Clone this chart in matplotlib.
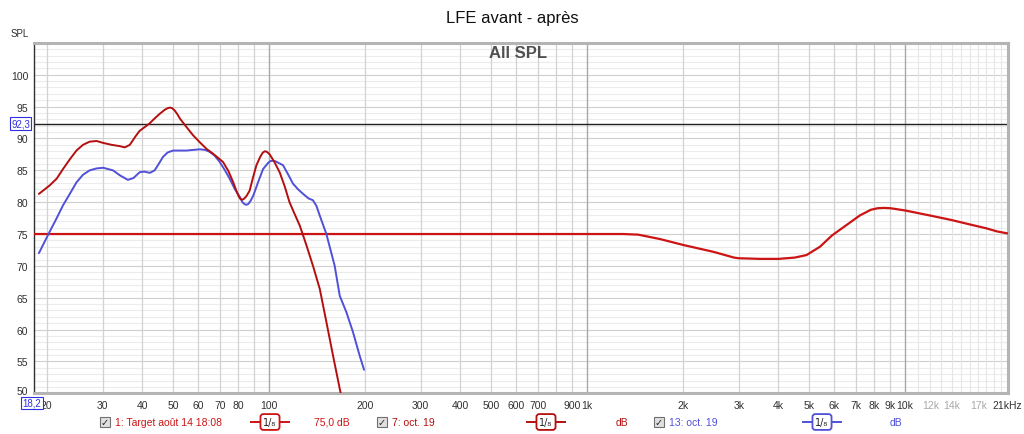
import numpy as np
import matplotlib
matplotlib.use("Agg")
import matplotlib.pyplot as plt
import matplotlib.transforms as mtransforms
from matplotlib.patches import Rectangle

plt.rcParams['font.family'] = ['Liberation Sans', 'DejaVu Sans']

# ---------------- data ----------------
target_freq = [18.2, 100, 500, 1300, 1450, 1700, 2000, 2500, 2900, 3000, 3500, 4000, 4500, 4900,
               5400, 5900, 6500, 7200, 7800, 8200, 8600, 9000, 10000, 12000, 14000, 16000, 18000, 19500, 21000]
target_spl = [75.0, 75.0, 75.0, 75.0, 74.9, 74.2, 73.3, 72.2, 71.3, 71.2, 71.1, 71.1, 71.3, 71.7,
              73.0, 74.8, 76.3, 77.9, 78.8, 79.05, 79.1, 79.05, 78.7, 77.9, 77.2, 76.5, 75.9, 75.4, 75.1]

m7_freq = [18.9, 20.4, 21.5, 22.5, 23.7, 24.8, 26.0, 27.3, 28.7, 30.1, 32.0, 33.9, 35.2, 36.5, 38.0,
           39.2, 40.7, 42.2, 43.8, 45.4, 47.0, 48.0, 48.8, 49.6, 50.5, 51.5, 52.5, 55.0, 57.7, 60.6,
           63.5, 66.7, 69.0, 71.7, 74.5, 77.2, 79.2, 80.5, 81.5, 82.5, 83.5, 84.8, 86.9, 89.0, 91.3,
           93.8, 95.5, 97.0, 98.5, 100.5, 104.0, 108.0, 112.0, 116.0, 120.0, 125.0, 131.0, 137.5,
           144.4, 151.5, 159.0, 167.7, 170.0]
m7_spl = [81.3, 82.6, 83.7, 85.2, 86.8, 88.1, 89.0, 89.5, 89.6, 89.3, 89.0, 88.8, 88.6, 89.0, 90.3,
          91.2, 91.8, 92.4, 93.2, 93.9, 94.5, 94.75, 94.85, 94.75, 94.4, 93.8, 93.1, 91.8, 90.5, 89.4,
          88.4, 87.6, 87.0, 86.3, 84.9, 83.1, 81.6, 80.8, 80.45, 80.4, 80.55, 80.9, 81.8, 83.8, 85.8,
          87.1, 87.75, 88.0, 87.9, 87.5, 86.3, 84.7, 82.5, 80.0, 78.3, 76.3, 73.3, 70.0,
          66.4, 61.2, 55.9, 50.2, 48.8]

m13_freq = [18.9, 20.4, 21.5, 22.5, 23.7, 24.8, 26.0, 27.3, 28.7, 30.1, 32.3, 34.0, 36.0, 37.5,
            39.2, 40.5, 42.2, 43.7, 45.0, 46.4, 48.0, 49.9, 52.5, 55.0, 57.7, 60.6, 63.0, 65.1,
            67.5, 70.0, 72.5, 75.2, 78.0, 81.0, 82.5, 84.0, 85.0, 86.0, 87.5, 89.2, 92.5, 95.8,
            99.5, 101.0, 103.0, 105.0, 106.8, 110.7, 115.0, 119.0, 123.5, 128.0, 133.0, 137.5,
            141.0, 144.4, 151.5, 160.9, 166.9, 175.2, 183.7, 192.8, 199.0]
m13_spl = [72.0, 75.3, 77.5, 79.5, 81.4, 83.1, 84.3, 85.0, 85.3, 85.4, 85.0, 84.2, 83.5, 83.8,
           84.7, 84.8, 84.6, 85.0, 86.0, 87.1, 87.8, 88.1, 88.1, 88.1, 88.2, 88.3, 88.2, 87.9,
           87.3, 86.3, 85.1, 83.7, 82.1, 80.8, 80.0, 79.65, 79.6, 79.7, 80.2, 81.0, 83.2, 85.2,
           86.2, 86.45, 86.5, 86.4, 86.2, 85.8, 84.3, 82.9, 82.0, 81.3, 80.6, 80.3,
           79.4, 77.9, 75.0, 70.0, 65.3, 62.7, 59.6, 55.9, 53.7]

marker_level = 92.3
y_ticks = [50, 55, 60, 65, 70, 75, 80, 85, 90, 95, 100]
x_tick_vals = [20, 30, 40, 50, 60, 70, 80, 100, 200, 300, 400, 500, 600, 700, 900,
               1000, 2000, 3000, 4000, 5000, 6000, 7000, 8000, 9000, 10000, 12000, 14000, 17000, 21000]
x_tick_labels = ['20', '30', '40', '50', '60', '70', '80', '100', '200', '300', '400', '500', '600', '700', '900',
                 '1k', '2k', '3k', '4k', '5k', '6k', '7k', '8k', '9k', '10k', '12k', '14k', '17k', '21kHz']
light_labels = ['12k', '14k', '17k']

title = "LFE avant - après"
overlay = "All SPL"
legend_names = ["1: Target août 14 18:08", "7: oct. 19", "13: oct. 19"]
legend_levels = ["75,0 dB", "dB", "dB"]

c_target = '#cc1414'
c_m7 = '#b40f0f'
c_m13 = '#5050d8'

# ---------------- figure ----------------
W, H = 1024, 435
fig = plt.figure(figsize=(W / 100, H / 100), dpi=100)
x0, x1, y0, y1 = 33.7, 1007.5, 43.9, 394.3
ax = fig.add_axes([x0 / W, 1 - y1 / H, (x1 - x0) / W, (y1 - y0) / H])
ax.set_xscale('log')
ax.set_xlim(18.2, 21000)
ax.set_ylim(50, 105)

# grid
for v in range(51, 105):
    if v % 5 == 0:
        continue
    ax.axhline(v, color='#ececec', lw=0.8, zorder=0)
for v in range(55, 105, 5):
    ax.axhline(v, color='#cfcfcf', lw=0.8, zorder=0)
vmed = [20, 30, 40, 50, 60, 70, 80, 90, 200, 300, 400, 500, 600, 700, 800, 900,
        2000, 3000, 4000, 5000, 6000, 7000, 8000, 9000]
for v in vmed:
    ax.axvline(v, color='#d2d2d2', lw=0.9, zorder=0)
for v in [100, 1000, 10000]:
    ax.axvline(v, color='#a8a8a8', lw=1.0, zorder=0)
for v in range(11000, 21000, 1000):
    ax.axvline(v, color='#e6e6e6', lw=0.8, zorder=0)

ax.axhline(marker_level, color='#202020', lw=1.0, zorder=2)

kw = dict(solid_joinstyle='round', solid_capstyle='round')
ax.plot(target_freq, target_spl, color=c_target, lw=1.6, zorder=3, **kw)
ax.plot(m13_freq, m13_spl, color=c_m13, lw=1.4, zorder=4, **kw)
ax.plot(m7_freq, m7_spl, color=c_m7, lw=1.4, zorder=5, **kw)

for s in ['top', 'right', 'bottom']:
    ax.spines[s].set_color('#b4b4b4')
    ax.spines[s].set_linewidth(2.2)
ax.spines['left'].set_color('#303030')
ax.spines['left'].set_linewidth(1.0)

ax.set_yticks(y_ticks)
ax.set_yticklabels([str(t) for t in y_ticks])
ax.set_xticks(x_tick_vals)
ax.set_xticklabels(x_tick_labels)
ax.xaxis.set_minor_locator(matplotlib.ticker.NullLocator())
ax.tick_params(axis='both', which='both', length=0, labelsize=7.5, colors='#303030', pad=5)
ax.tick_params(axis='y', pad=4)
for lab in ax.get_xticklabels():
    if lab.get_text() in light_labels:
        lab.set_color('#a8a8a8')
# nudge the lowest y label up a little (as in the reference, above the 18,2 box)
lab50 = ax.get_yticklabels()[0]
lab50.set_transform(lab50.get_transform() + mtransforms.ScaledTranslation(0, 3 / 100, fig.dpi_scale_trans))

# texts
fig.text(512 / W, 1 - 18 / H, title, ha='center', va='center', fontsize=12, color='#101010')
fig.text(518 / W, 1 - 53 / H, overlay, ha='center', va='center', fontsize=12,
         fontweight='bold', color='#505050')
fig.text(20 / W, 1 - 34 / H, "SPL", ha='center', va='center', fontsize=7, color='#303030')

def blue_box(xc, yc, txt):
    fig.text(xc / W, 1 - yc / H, txt, ha='center', va='center', fontsize=7, color='#3030e0',
             bbox=dict(boxstyle='square,pad=0.15', fc='white', ec='#3030e0', lw=0.8))

blue_box(20.5, 124.5, "92,3")
blue_box(32, 404, "18,2")

# legend
ly = 1 - 423 / H

def checkbox(xc):
    fig.patches.append(Rectangle(((xc - 5) / W, ly - 5 / H), 10 / W, 10 / H, transform=fig.transFigure,
                                 fc='#e0e0e0', ec='#707070', lw=0.8))
    fig.text(xc / W, ly, '✓', ha='center', va='center', fontsize=7, color='#202020',
             family=['DejaVu Sans'])

def smooth_box(xc, col):
    fig.lines.append(plt.Line2D([(xc - 19) / W, (xc + 19) / W], [ly, ly], transform=fig.transFigure,
                                color=col, lw=1.4))
    fig.text(xc / W, ly, '1/₈', ha='center', va='center', fontsize=7, color='#202020',
             family=['DejaVu Sans'],
             bbox=dict(boxstyle='round,pad=0.3,rounding_size=0.3', fc='white', ec=col, lw=1.3))

legend_cols = [c_target, c_m7, c_m13]
check_x = [105, 382, 659]
name_x = [115, 392, 669]
box_x = [270, 546, 822]
lvl_x = [350, 628, 902]
for i in range(3):
    checkbox(check_x[i])
    fig.text(name_x[i] / W, ly, legend_names[i], ha='left', va='center', fontsize=7.5, color=legend_cols[i])
    smooth_box(box_x[i], legend_cols[i])
    fig.text(lvl_x[i] / W, ly, legend_levels[i], ha='right', va='center', fontsize=7.5, color=legend_cols[i])

fig.savefig('out.png', dpi=100, facecolor='white')
